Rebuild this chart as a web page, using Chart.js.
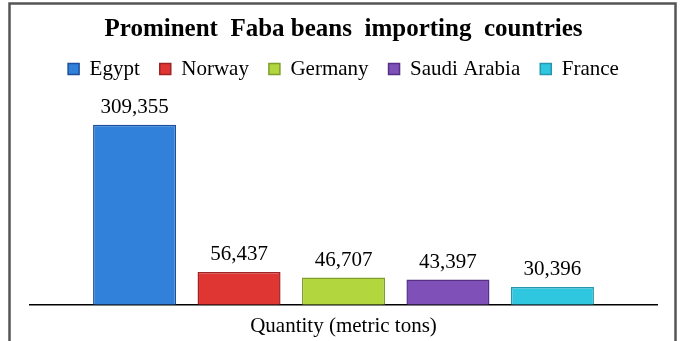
<!DOCTYPE html>
<html>
<head>
<meta charset="utf-8">
<script src="https://cdn.jsdelivr.net/npm/chart.js@4"></script>
<style>
  html, body { margin: 0; padding: 0; background: #ffffff; }
  #wrap { width: 681px; height: 341px; }
</style>
</head>
<body>
<div id="wrap"><canvas id="chart" width="681" height="341"></canvas></div>
<script>
// Import quantities by country (metric tons)
const countries = ['Egypt', 'Norway', 'Germany', 'Saudi Arabia', 'France'];
const quantities = [309355, 56437, 46707, 43397, 30396];
const groupLabels = [''];
const fillColors = ['#3180DA', '#E03633', '#B1D63E', '#7E50B8', '#2FC6E0'];
const edgeColors = ['#1E4F9C', '#A02426', '#7F9E2C', '#553085', '#2496AE'];
const chartTitle = 'Prominent  Faba beans  importing  countries';
const axisTitle = 'Quantity (metric tons)';
const yMax = 370000;

const serif = "'Liberation Serif', 'Times New Roman', serif";

// Frame around the chart (open at the bottom edge)
const framePlugin = {
  id: 'frame',
  beforeDraw(chart) {
    const ctx = chart.ctx;
    ctx.save();
    ctx.fillStyle = '#ffffff';
    ctx.fillRect(0, 0, chart.width, chart.height);
    ctx.strokeStyle = '#555555';
    ctx.lineWidth = 2.5;
    ctx.beginPath();
    ctx.moveTo(9.5, chart.height + 5);
    ctx.lineTo(9.5, 3.5);
    ctx.lineTo(675.5, 3.5);
    ctx.lineTo(675.5, chart.height + 5);
    ctx.stroke();
    ctx.restore();
  }
};

// Value labels above each bar
const valueLabels = {
  id: 'valueLabels',
  afterDatasetsDraw(chart) {
    const ctx = chart.ctx;
    ctx.save();
    ctx.font = '21px ' + serif;
    ctx.fillStyle = '#000000';
    ctx.textAlign = 'center';
    ctx.textBaseline = 'alphabetic';
    chart.data.datasets.forEach((ds, i) => {
      const meta = chart.getDatasetMeta(i);
      meta.data.forEach((bar, j) => {
        const v = ds.data[j];
        ctx.fillText(v.toLocaleString('en-US'), bar.x, bar.y - 12);
      });
    });
    ctx.restore();
  }
};

const datasets = countries.map((name, i) => ({
  label: name,
  data: [quantities[i]],
  backgroundColor: fillColors[i],
  borderColor: edgeColors[i],
  borderWidth: 1.5,
  categoryPercentage: 0.833,
  barPercentage: 0.795
}));

new Chart(document.getElementById('chart'), {
  type: 'bar',
  data: { labels: groupLabels, datasets },
  options: {
    responsive: false,
    animation: false,
    devicePixelRatio: 1,
    layout: { padding: { left: 30, right: 24, top: 8, bottom: 2 } },
    plugins: {
      title: {
        display: true,
        text: chartTitle,
        color: '#000000',
        font: { family: serif, size: 25, weight: 'bold', lineHeight: 1 },
        padding: { top: 9.5, bottom: -4 }
      },
      legend: {
        display: true,
        position: 'top',
        labels: {
          color: '#000000',
          font: { family: serif, size: 21 },
          boxWidth: 11,
          boxHeight: 11,
          padding: 20
        }
      },
      tooltip: { enabled: false }
    },
    scales: {
      x: {
        grid: { display: false, drawTicks: false },
        border: { display: true, color: '#000000', width: 1.5 },
        ticks: { display: false },
        title: {
          display: true,
          text: axisTitle,
          color: '#000000',
          font: { family: serif, size: 21 },
          padding: { top: 9, bottom: 0 }
        }
      },
      y: {
        display: false,
        min: 0,
        max: yMax
      }
    }
  },
  plugins: [framePlugin, valueLabels]
});
</script>
</body>
</html>
